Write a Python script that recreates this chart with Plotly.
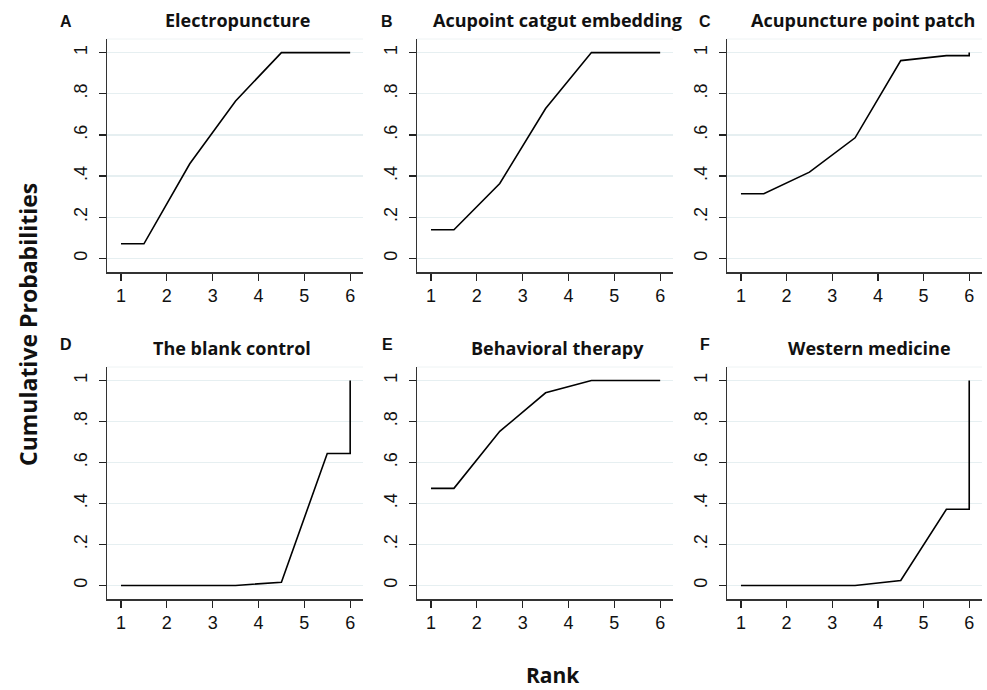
import plotly.graph_objects as go

# ---- data ----
rank_x = [1, 1.5, 2.5, 3.5, 4.5, 5.5, 6, 6]
panel_letters = ["A", "B", "C", "D", "E", "F"]
panel_titles = ["Electropuncture", "Acupoint catgut embedding", "Acupuncture point patch",
                "The blank control", "Behavioral therapy", "Western medicine"]
electropuncture = [0.071, 0.071, 0.46, 0.765, 1.0, 1.0, 1.0, 1.0]
catgut = [0.139, 0.139, 0.364, 0.728, 1.0, 1.0, 1.0, 1.0]
point_patch = [0.314, 0.314, 0.419, 0.586, 0.961, 0.985, 0.985, 1.0]
blank_control = [0.0, 0.0, 0.0, 0.0, 0.016, 0.644, 0.644, 1.0]
behavioral = [0.474, 0.474, 0.752, 0.94, 1.0, 1.0, 1.0, 1.0]
western = [0.0, 0.0, 0.0, 0.0, 0.024, 0.372, 0.372, 1.0]
series = [electropuncture, catgut, point_patch, blank_control, behavioral, western]
x_ticks = [1, 2, 3, 4, 5, 6]
y_ticks = [0, 0.2, 0.4, 0.6, 0.8, 1]
y_tick_text = ["0", ".2", ".4", ".6", ".8", "1"]

W, H = 987, 690
def px(x):
    return x / W
def py(y):
    return 1 - y / H

col_px = [(107, 363), (417, 673), (727, 982)]
row_px = [(39, 272), (367, 599)]
title_cx = [237, 557, 863, 232, 557, 869]
letter_cx = [66, 387, 705, 66, 387, 705]
title_y = [20, 20, 20, 348, 348, 348]
letter_y = [22, 22, 22, 344, 344, 344]

fig = go.Figure()
layout = {}
annotations = []
shapes = []
TICKFONT = dict(family="Liberation Sans", size=18, color="#111")
for i in range(6):
    r, c = divmod(i, 3)
    n = i + 1
    xa = "x" if n == 1 else f"x{n}"
    ya = "y" if n == 1 else f"y{n}"
    fig.add_trace(go.Scatter(x=rank_x, y=series[i], mode="lines",
                             line=dict(color="black", width=1.6),
                             xaxis=xa, yaxis=ya, showlegend=False, hoverinfo="skip"))
    x0, x1 = col_px[c]
    y0, y1 = row_px[r]
    layout[f"xaxis{'' if n == 1 else n}"] = dict(
        domain=[px(x0), px(x1)], anchor=ya, range=[0.694, 6.28],
        tickvals=x_ticks, ticks="outside", ticklen=7, tickcolor="#222", tickwidth=1.2,
        showline=True, linecolor="#333", linewidth=1.5, showgrid=False, zeroline=False,
        tickfont=TICKFONT, fixedrange=True)
    layout[f"yaxis{'' if n == 1 else n}"] = dict(
        domain=[py(y1), py(y0)], anchor=xa, range=[-0.066, 1.066],
        tickvals=y_ticks, ticktext=y_tick_text, tickangle=-90,
        ticks="outside", ticklen=7, tickcolor="#222", tickwidth=1.2,
        showline=True, linecolor="#333", linewidth=1.5,
        showgrid=True, gridcolor="#e6eff1", gridwidth=1.2, zeroline=False,
        tickfont=TICKFONT, ticklabelstandoff=4, fixedrange=True)
    # faint top border of the plot region
    shapes.append(dict(type="line", xref="paper", yref="paper",
                       x0=px(x0), x1=px(x1), y0=py(y0), y1=py(y0),
                       line=dict(color="#eef3f4", width=1)))
    annotations.append(dict(text=f"<b>{panel_titles[i]}</b>", x=px(title_cx[i]), y=py(title_y[i]),
                            xref="paper", yref="paper", showarrow=False, xanchor="center", yanchor="middle",
                            font=dict(family="Open Sans", size=18, color="#111")))
    annotations.append(dict(text=f"<b>{panel_letters[i]}</b>", x=px(letter_cx[i]), y=py(letter_y[i]),
                            xref="paper", yref="paper", showarrow=False, xanchor="center", yanchor="middle",
                            font=dict(family="Liberation Sans", size=16, color="#111")))

annotations.append(dict(text="<b>Cumulative Probabilities</b>", x=px(28), y=py(325), textangle=-90,
                        xref="paper", yref="paper", showarrow=False, xanchor="center", yanchor="middle",
                        font=dict(family="Open Sans", size=23, color="#111")))
annotations.append(dict(text="<b>Rank</b>", x=px(553), y=py(675),
                        xref="paper", yref="paper", showarrow=False, xanchor="center", yanchor="middle",
                        font=dict(family="Open Sans", size=21, color="#111")))

fig.update_layout(width=W, height=H, margin=dict(l=0, r=0, t=0, b=0),
                  paper_bgcolor="white", plot_bgcolor="white",
                  annotations=annotations, shapes=shapes, **layout)
fig.write_html("out.html", config={"displayModeBar": False, "staticPlot": True},
               post_script="document.body.style.margin='0';document.body.style.overflow='hidden';")
